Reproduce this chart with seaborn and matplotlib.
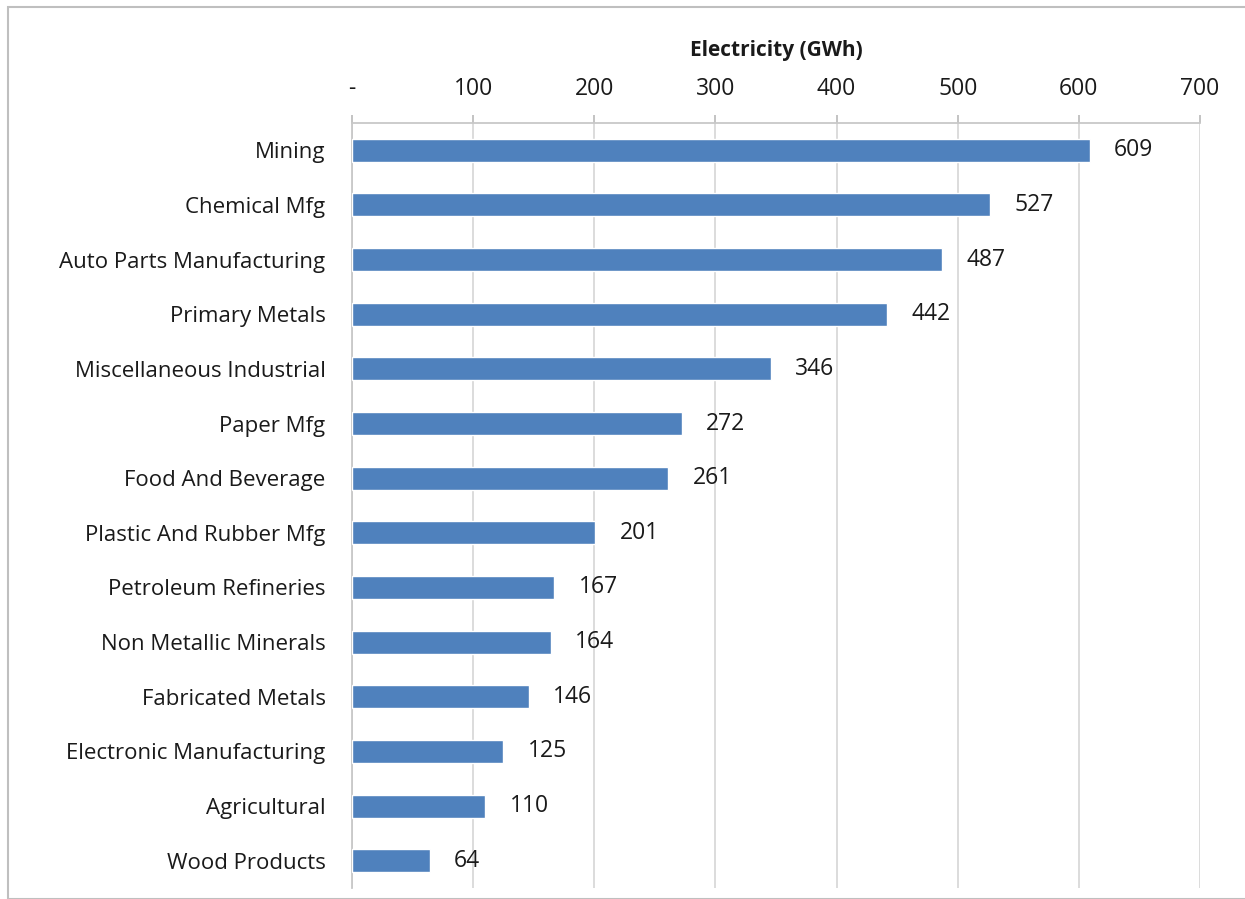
import matplotlib
matplotlib.use('Agg')
import matplotlib.pyplot as plt
import seaborn as sns
import pandas as pd
from matplotlib.patches import Rectangle

# Dados do gráfico
setores = ['Mining', 'Chemical Mfg', 'Auto Parts Manufacturing', 'Primary Metals',
           'Miscellaneous Industrial', 'Paper Mfg', 'Food And Beverage',
           'Plastic And Rubber Mfg', 'Petroleum Refineries', 'Non Metallic Minerals',
           'Fabricated Metals', 'Electronic Manufacturing', 'Agricultural', 'Wood Products']
eletricidade = [609, 527, 487, 442, 346, 272, 261, 201, 167, 164, 146, 125, 110, 64]
ticks_x = [0, 100, 200, 300, 400, 500, 600, 700]
rotulos_x = ['-', '100', '200', '300', '400', '500', '600', '700']

df = pd.DataFrame({'Setor': setores, 'GWh': eletricidade})

sns.set_theme(style='white')
plt.rcParams['font.family'] = ['Open Sans', 'DejaVu Sans']
plt.rcParams['text.color'] = '#1A1A1A'

fig = plt.figure(figsize=(12.45, 8.99), dpi=100)
ax = fig.add_axes([0.2827, 0.0122, 0.9639 - 0.2827, 0.8632 - 0.0122])

sns.barplot(data=df, x='GWh', y='Setor', color='#4F81BD', width=0.42,
            saturation=1, ax=ax, zorder=3)

# Rótulos de valor
for i, v in enumerate(eletricidade):
    ax.text(v + 20, i, str(v), va='center', ha='left', fontsize=16.5, color='#1A1A1A')

ax.set_xlim(0, 700)
ax.set_ylim(len(setores) - 0.5, -0.5)
ax.xaxis.tick_top()
ax.xaxis.set_label_position('top')
ax.set_xticks(ticks_x)
ax.set_xticklabels(rotulos_x, fontsize=16.5, color='#1A1A1A')
ax.set_xlabel('Electricity (GWh)', fontsize=15, fontweight='bold', labelpad=15, color='#1A1A1A')
ax.set_ylabel('')
ax.tick_params(axis='y', labelsize=16, length=0, pad=19, labelcolor='#1A1A1A')
ax.tick_params(axis='x', length=6, color='#BBBBBB', pad=10, direction='out')

# Grade vertical
ax.grid(axis='x', color='#D9D9D9', linewidth=1.3, zorder=0)
ax.set_axisbelow(True)

for lado in ['right', 'bottom']:
    ax.spines[lado].set_visible(False)
ax.spines['top'].set_color('#C8C8C8')
ax.spines['left'].set_color('#C8C8C8')
ax.spines['top'].set_linewidth(1.3)
ax.spines['left'].set_linewidth(1.3)

# Marcas do eixo y nas fronteiras das categorias
ax.set_yticks([i + 0.5 for i in range(-1, len(setores))], minor=True)
ax.tick_params(axis='y', which='minor', length=6, color='#BBBBBB')

# Borda externa do gráfico
fig.patches.append(Rectangle((8 / 1245, 0), 1.0, 1 - 7 / 899, transform=fig.transFigure,
                             fill=False, edgecolor='#BFBFBF', linewidth=1.5))

fig.savefig('out.png', dpi=100)
